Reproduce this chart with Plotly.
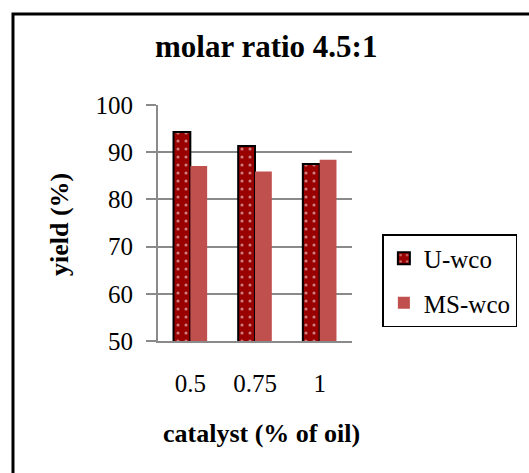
import plotly.graph_objects as go

categories = ["0.5", "0.75", "1"]
u_wco = [94.3, 91.3, 87.5]
ms_wco = [87.1, 85.9, 88.4]
y_ticks = [50, 60, 70, 80, 90, 100]

SERIF = "Liberation Serif, Times New Roman, serif"

fig = go.Figure()
fig.add_trace(go.Bar(
    x=categories, y=u_wco, name="U-wco", legendgroup="u",
    marker=dict(color="#990000", line=dict(color="black", width=2),
                pattern=dict(shape=".", fgcolor="white", bgcolor="#990000", size=8, solidity=0.12)),
))
fig.add_trace(go.Bar(
    x=categories, y=ms_wco, name="MS-wco", legendgroup="m",
    marker=dict(color="#C0504D", line=dict(width=0)),
))

W, H = 529, 473
L, R, T, B = 158, 173, 105, 132
pw, ph = W - L - R, H - T - B

def px(x):
    return (x - L) / pw

def py(y):
    return (H - B - y) / ph

fig.update_layout(
    width=W, height=H,
    margin=dict(l=L, r=R, t=T, b=B),
    paper_bgcolor="white", plot_bgcolor="white",
    font=dict(family=SERIF, size=25, color="black"),
    barmode="group", bargap=0.48, bargroupgap=0,
    showlegend=True,
    legend=dict(x=px(387), y=py(234), xanchor="left", yanchor="top",
                bordercolor="black", borderwidth=1.5, bgcolor="white",
                traceorder="grouped", tracegroupgap=9,
                font=dict(family=SERIF, size=25, color="black")),
    xaxis=dict(type="category", showline=True, linecolor="#8a8a8a", linewidth=2,
               ticks="", ticklabelstandoff=19, showgrid=False,
               tickfont=dict(family=SERIF, size=25, color="black")),
    yaxis=dict(range=[50, 100], tickvals=y_ticks, showline=True, linecolor="#8a8a8a", linewidth=2,
               ticks="outside", ticklen=10, tickcolor="#8a8a8a", tickwidth=2,
               showgrid=True, gridcolor="#8a8a8a", gridwidth=2, zeroline=False,
               ticklabelstandoff=8,
               tickfont=dict(family=SERIF, size=25, color="black")),
    annotations=[
        dict(text="<b>molar ratio 4.5:1</b>", xref="paper", yref="paper",
             x=px(268.5), y=py(46), xanchor="center", yanchor="middle", showarrow=False,
             font=dict(family=SERIF, size=31, color="black")),
        dict(text="<b>catalyst (% of oil)</b>", xref="paper", yref="paper",
             x=px(264), y=py(433), xanchor="center", yanchor="middle", showarrow=False,
             font=dict(family=SERIF, size=26, color="black")),
        dict(text="<b>yield (%)</b>", xref="paper", yref="paper", textangle=-90,
             x=px(57), y=py(225), xanchor="center", yanchor="middle", showarrow=False,
             font=dict(family=SERIF, size=26, color="black")),
    ],
    shapes=[dict(type="rect", xref="paper", yref="paper",
                 x0=px(10), y0=py(490), x1=px(545), y1=py(14),
                 line=dict(color="black", width=3), layer="below")],
)

fig.write_html("out.html")
